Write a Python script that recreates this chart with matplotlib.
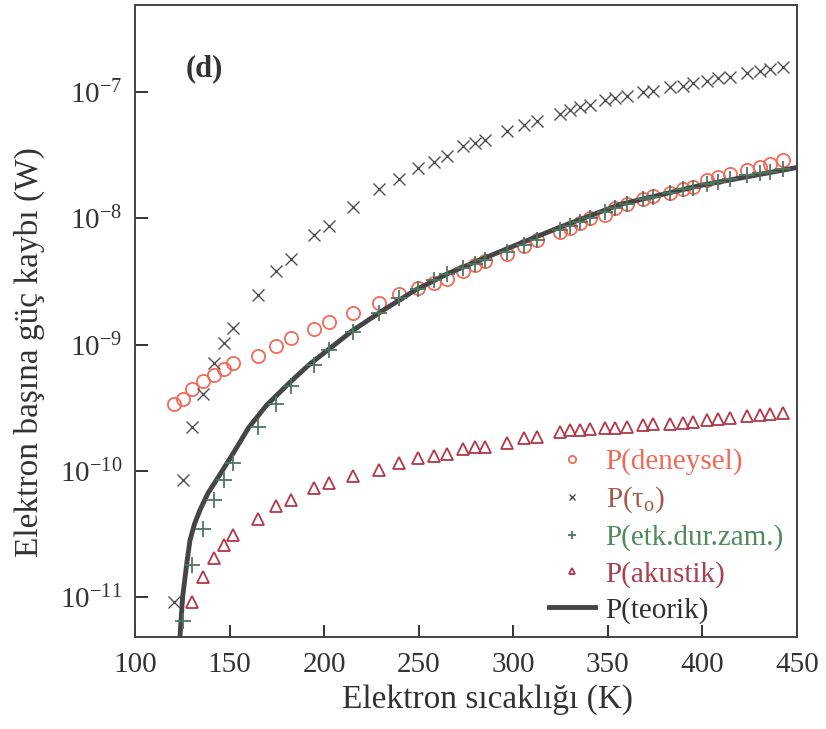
import numpy as np
import matplotlib
matplotlib.use("Agg")
import matplotlib.pyplot as plt

plt.rcParams['font.family'] = ['Liberation Serif', 'DejaVu Serif']
plt.rcParams['mathtext.fontset'] = 'custom'
plt.rcParams['mathtext.rm'] = 'Liberation Serif'
plt.rcParams['mathtext.it'] = 'Liberation Serif:italic'

# electron temperature grid (K) shared by the measured points
T = [120.8, 125.3, 130.0, 135.8, 141.9, 147.2, 152.0, 164.9, 174.5, 182.3,
     194.6, 202.4, 215.5, 229.0, 239.7, 249.4, 258.1, 265.1, 273.6, 279.8,
     285.0, 296.8, 305.7, 312.4, 324.7, 330.0, 335.3, 340.6, 348.5, 353.8,
     360.0, 368.6, 373.9, 382.9, 389.7, 395.0, 402.4, 408.2, 414.6, 423.6,
     430.4, 435.7, 442.6]

# log10 of power loss per electron (W)
log_deneysel = [-9.47, -9.43, -9.35, -9.29, -9.24, -9.19, -9.15, -9.09, -9.01, -8.95,
                -8.88, -8.82, -8.75, -8.67, -8.60, -8.55, -8.51, -8.48, -8.42, -8.37,
                -8.34, -8.28, -8.22, -8.17, -8.11, -8.08, -8.04, -8.00, -7.97, -7.92,
                -7.89, -7.85, -7.82, -7.80, -7.77, -7.75, -7.70, -7.67, -7.65, -7.62,
                -7.59, -7.57, -7.54]

log_tau0 = [-11.04, -10.07, -9.65, -9.39, -9.15, -8.99, -8.87, -8.61, -8.42, -8.32,
            -8.13, -8.06, -7.91, -7.77, -7.69, -7.60, -7.55, -7.51, -7.43, -7.40,
            -7.38, -7.31, -7.26, -7.23, -7.17, -7.14, -7.12, -7.10, -7.06, -7.05,
            -7.03, -7.00, -6.99, -6.96, -6.95, -6.93, -6.91, -6.89, -6.88, -6.85,
            -6.83, -6.82, -6.80]

# effective relaxation time points start at the second temperature
log_etk = [-11.19, -10.75, -10.46, -10.23, -10.07, -9.94, -9.65, -9.47, -9.33,
           -9.16, -9.04, -8.90, -8.75, -8.63, -8.56, -8.49, -8.44, -8.39, -8.36,
           -8.33, -8.27, -8.21, -8.17, -8.09, -8.06, -8.03, -8.00, -7.95, -7.92,
           -7.89, -7.85, -7.83, -7.80, -7.77, -7.76, -7.73, -7.71, -7.69, -7.66,
           -7.64, -7.63, -7.61]

# acoustic points start at the third temperature
log_akustik = [-11.04, -10.84, -10.69, -10.59, -10.51, -10.38, -10.28, -10.23,
               -10.14, -10.10, -10.04, -9.99, -9.94, -9.90, -9.88, -9.87, -9.83,
               -9.81, -9.81, -9.78, -9.74, -9.73, -9.69, -9.68, -9.68, -9.67,
               -9.66, -9.66, -9.65, -9.64, -9.63, -9.63, -9.62, -9.61, -9.60,
               -9.59, -9.58, -9.57, -9.56, -9.55, -9.54]

# theoretical curve
T_teorik = [123.8, 125.2, 127.5, 129.1, 131.5, 134.4, 138.5, 143.2, 152.0, 160.0,
            169.6, 181.9, 192.0, 204.8, 215.0, 230.0, 248.0, 266.5, 296.8, 324.7,
            356.4, 398.7, 449.0]
log_teorik = [-11.31, -11.00, -10.72, -10.55, -10.42, -10.31, -10.18, -10.07, -9.86,
              -9.66, -9.48, -9.30, -9.16, -9.01, -8.89, -8.74, -8.57, -8.43, -8.24,
              -8.07, -7.89, -7.74, -7.60]

T = np.array(T)

fig = plt.figure(figsize=(8.26, 7.29), dpi=100)
ax = fig.add_axes([0.1634, 0.1262, 0.8015, 0.8669])

ax.plot(T, 10**np.array(log_deneysel), 'o', ms=9.5, mfc='none', mec='#f26a5c',
        mew=1.3, label='P(deneysel)', zorder=3)
ax.plot(T, 10**np.array(log_tau0), 'x', ms=9, color='#505050', mew=1.0,
        label=r'P(τ$_{\mathrm{o}}$)', zorder=3)
ax.plot(T[1:], 10**np.array(log_etk), '+', ms=11, color='#4f7560', mew=1.3,
        label='P(etk.dur.zam.)', zorder=5)
ax.plot(T[2:], 10**np.array(log_akustik), '^', ms=8, mfc='none', mec='#b03848',
        mew=1.3, label='P(akustik)', zorder=3)
ax.plot(T_teorik, 10**np.array(log_teorik), '-', color='#454545', lw=3.5,
        label='P(teorik)', zorder=4)

ax.set_yscale('log')
ax.set_xlim(100, 450)
ax.set_ylim(10**-11.317, 10**-6.31)

ax.set_xticks([100, 150, 200, 250, 300, 350, 400, 450])
yt = [1e-11, 1e-10, 1e-9, 1e-8, 1e-7]
ax.set_yticks(yt)
ax.set_yticklabels([r'$\mathregular{10^{-11}}$', r'$\mathregular{10^{-10}}$',
                    r'$\mathregular{10^{-9}}$', r'$\mathregular{10^{-8}}$',
                    r'$\mathregular{10^{-7}}$'])
ax.minorticks_off()
ax.tick_params(direction='in', length=9, width=1.4, labelsize=21,
               colors='#333333', pad=9)
ax.tick_params(axis='x', pad=11)
for s in ax.spines.values():
    s.set_linewidth(1.4)
    s.set_color('#444444')

ax.set_xlabel('Elektron sıcaklığı (K)', fontsize=24, color='#333333')
ax.set_ylabel('Elektron başına güç kaybı (W)', fontsize=24, color='#333333')
ax.xaxis.set_label_coords(0.533, -0.075)
ax.yaxis.set_label_coords(-0.136, 0.451)

ax.text(0.076, 0.90, '(d)', transform=ax.transAxes, fontsize=22,
        fontweight='bold', color='#333333', va='center')

leg = ax.legend(loc='lower right', bbox_to_anchor=(1.0, 0.0), frameon=False,
                fontsize=21, handlelength=1.6, handletextpad=0.35,
                labelspacing=0.32, markerscale=0.55, borderaxespad=0.05,
                labelcolor=['#f06a5a', '#a85a50', '#4f8a60', '#a84050', '#303038'])

fig.savefig('out.png', dpi=100)
